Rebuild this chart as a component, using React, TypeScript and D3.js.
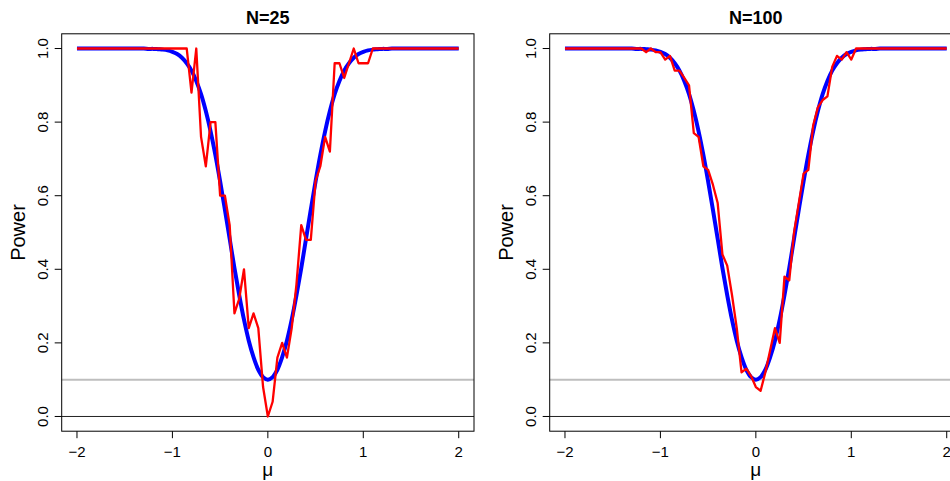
import React from "react";
import * as d3 from "d3";

const mu = [
  -2, -1.95, -1.9, -1.85, -1.8, -1.75, -1.7, -1.65, -1.6, -1.55, -1.5, -1.45, -1.4, -1.35, -1.3, -1.25, -1.2,
  -1.15, -1.1, -1.05, -1, -0.95, -0.9, -0.85, -0.8, -0.75, -0.7, -0.65, -0.6, -0.55, -0.5, -0.45, -0.4,
  -0.35, -0.3, -0.25, -0.2, -0.15, -0.1, -0.05, 0, 0.05, 0.1, 0.15, 0.2, 0.25, 0.3, 0.35, 0.4, 0.45, 0.5,
  0.55, 0.6, 0.65, 0.7, 0.75, 0.8, 0.85, 0.9, 0.95, 1, 1.05, 1.1, 1.15, 1.2, 1.25, 1.3, 1.35, 1.4, 1.45,
  1.5, 1.55, 1.6, 1.65, 1.7, 1.75, 1.8, 1.85, 1.9, 1.95, 2,
];

// theoretical power curve (blue)
const powerTheory = [
  1, 1, 1, 1, 1, 1, 1, 1, 1, 1, 1, 1, 1, 1, 1, 0.999, 0.999,
  0.998, 0.997, 0.995, 0.991, 0.985, 0.975, 0.96, 0.94, 0.912, 0.876, 0.83, 0.775, 0.711, 0.639, 0.562, 0.483,
  0.403, 0.33, 0.263, 0.206, 0.161, 0.127, 0.107, 0.1, 0.107, 0.127, 0.161, 0.206, 0.263, 0.33, 0.403, 0.483, 0.562, 0.639,
  0.711, 0.775, 0.83, 0.876, 0.912, 0.94, 0.96, 0.975, 0.985, 0.991, 0.995, 0.997, 0.998, 0.999, 0.999, 1, 1, 1, 1,
  1, 1, 1, 1, 1, 1, 1, 1, 1, 1, 1,
];

// simulated power, N = 25 (red)
const powerSim25 = [
  1, 1, 1, 1, 1, 1, 1, 1, 1, 1, 1, 1, 1, 1, 1, 1, 1,
  1, 1, 1, 1, 1, 1, 1, 0.88, 1, 0.76, 0.68, 0.8, 0.8, 0.6, 0.6, 0.52,
  0.28, 0.32, 0.4, 0.24, 0.28, 0.24, 0.08, 0, 0.04, 0.16, 0.2, 0.16, 0.24, 0.36, 0.52, 0.48, 0.48, 0.64,
  0.68, 0.76, 0.72, 0.96, 0.96, 0.92, 0.96, 1, 0.96, 0.96, 0.96, 1, 1, 1, 1, 1, 1, 1, 1,
  1, 1, 1, 1, 1, 1, 1, 1, 1, 1, 1,
];

// simulated power, N = 100 (red)
const powerSim100 = [
  1, 1, 1, 1, 1, 1, 1, 1, 1, 1, 1, 1, 1, 1, 1, 1, 1,
  0.99, 1, 0.99, 0.99, 0.97, 0.98, 0.94, 0.94, 0.92, 0.9, 0.77, 0.76, 0.68, 0.67, 0.63, 0.58,
  0.44, 0.41, 0.33, 0.24, 0.12, 0.13, 0.11, 0.08, 0.07, 0.12, 0.18, 0.24, 0.2, 0.38, 0.37, 0.5, 0.58, 0.66,
  0.67, 0.79, 0.84, 0.86, 0.87, 0.95, 0.98, 0.97, 0.99, 0.97, 1, 1, 1, 1, 1, 1, 1, 1, 1,
  1, 1, 1, 1, 1, 1, 1, 1, 1, 1, 1,
];

const panelTitles = ["N=25", "N=100"];
const xTicks = [-2, -1, 0, 1, 2];
const xTickLabels = ["\u22122", "\u22121", "0", "1", "2"];
const yTicks = [0, 0.2, 0.4, 0.6, 0.8, 1.0];
const yTickLabels = ["0.0", "0.2", "0.4", "0.6", "0.8", "1.0"];
const alphaLevel = 0.1;

const W = 950;
const H = 481;
const panelLefts = [61.7, 549.7];
const plotW = 412.3;
const plotTop = 33.8;
const plotBottom = 431.2;
const FONT = "'Liberation Sans', Arial, Helvetica, sans-serif";

function Panel({ idx, sim }: { idx: number; sim: number[] }) {
  const left = panelLefts[idx];
  const x = d3.scaleLinear().domain([-2.16, 2.16]).range([left, left + plotW]);
  const y = d3.scaleLinear().domain([-0.04, 1.04]).range([plotBottom, plotTop]);
  const line = d3
    .line<number>()
    .x((_, i) => x(mu[i]))
    .y((d) => y(d));
  const smooth = d3
    .line<number>()
    .x((_, i) => x(mu[i]))
    .y((d) => y(d))
    .curve(d3.curveCatmullRom);
  const cx = left + plotW / 2;
  const cy = (plotTop + plotBottom) / 2;
  return (
    <g>
      <line x1={left} x2={left + plotW} y1={y(alphaLevel)} y2={y(alphaLevel)} stroke="#bebebe" strokeWidth={2} />
      <line x1={left} x2={left + plotW} y1={y(0)} y2={y(0)} stroke="#222" strokeWidth={1} />
      <path d={smooth(powerTheory) || ""} fill="none" stroke="#0000ff" strokeWidth={4} strokeLinejoin="round" />
      <path d={line(sim) || ""} fill="none" stroke="#ff0000" strokeWidth={2.3} strokeLinejoin="round" />
      <rect x={left} y={plotTop} width={plotW} height={plotBottom - plotTop} fill="none" stroke="#000" strokeWidth={1} />
      {xTicks.map((t, i) => (
        <g key={"x" + t}>
          <line x1={x(t)} x2={x(t)} y1={plotBottom} y2={plotBottom + 7} stroke="#000" strokeWidth={1} />
          <text x={x(t)} y={457} textAnchor="middle" fontSize={15} fontFamily={FONT}>
            {xTickLabels[i]}
          </text>
        </g>
      ))}
      {yTicks.map((t, i) => (
        <g key={"y" + t}>
          <line x1={left - 7} x2={left} y1={y(t)} y2={y(t)} stroke="#000" strokeWidth={1} />
          <text
            transform={`translate(${left - 14},${y(t)}) rotate(-90)`}
            textAnchor="middle"
            fontSize={15}
            fontFamily={FONT}
          >
            {yTickLabels[i]}
          </text>
        </g>
      ))}
      <text x={cx} y={24} textAnchor="middle" fontSize={18} fontWeight="bold" fontFamily={FONT}>
        {panelTitles[idx]}
      </text>
      <text x={cx} y={476} textAnchor="middle" fontSize={19} fontFamily={FONT}>
        {"\u03bc"}
      </text>
      <text
        transform={`translate(${left - 37},${cy}) rotate(-90)`}
        textAnchor="middle"
        fontSize={20}
        fontFamily={FONT}
      >
        Power
      </text>
    </g>
  );
}

export default function App() {
  return (
    <svg
      width={W}
      height={H}
      viewBox={`0 0 ${W} ${H}`}
      style={{ position: "absolute", left: 0, top: 0, background: "#fff" }}
    >
      <rect x={0} y={0} width={W} height={H} fill="#fff" />
      <Panel idx={0} sim={powerSim25} />
      <Panel idx={1} sim={powerSim100} />
    </svg>
  );
}
